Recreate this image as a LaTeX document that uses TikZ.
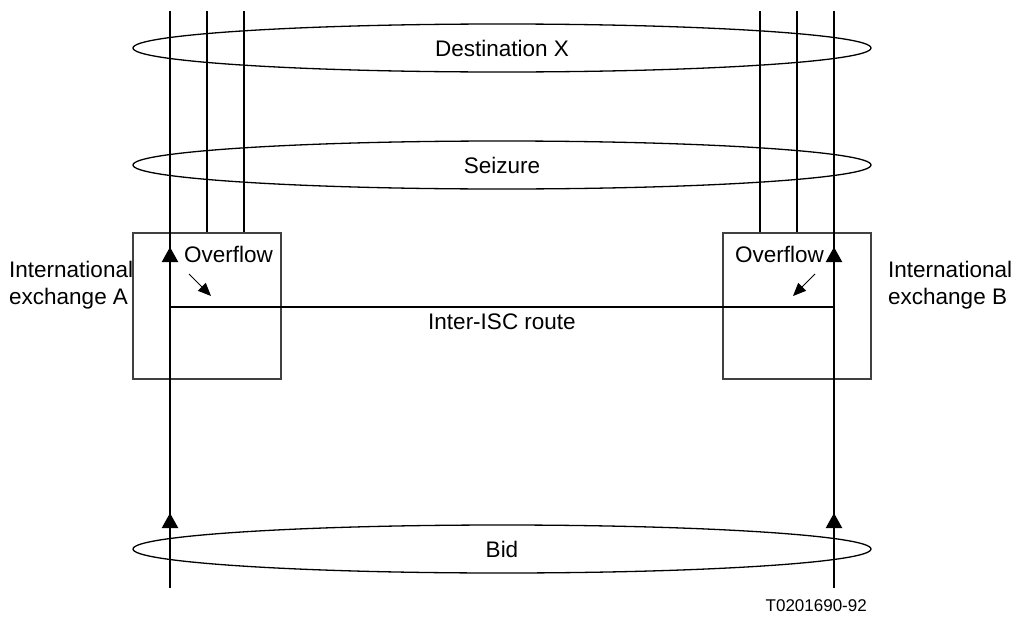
\documentclass[tikz,border=0pt]{standalone}
\usepackage{fontspec}
\setmainfont{Liberation Sans}
\usetikzlibrary{shapes.geometric,arrows.meta}
\begin{document}
\begin{tikzpicture}[x=1pt,y=-1pt,
  txt/.style={font=\fontsize{22.5}{26.5}\selectfont, inner sep=0pt},
  oval/.style={draw, line width=1.3pt, ellipse, minimum width=738pt, minimum height=48pt, inner sep=0pt},
  exch/.style={draw=black!75, line width=1.3pt, rectangle, minimum width=148pt, minimum height=146pt, inner sep=0pt},
  trunk/.style={line width=2.2pt},
  uparrow/.style={line width=2.2pt, -{Triangle[width=16pt,length=15pt]}},
  ovarrow/.style={line width=1pt, -{Triangle[width=11pt,length=13pt]}}]
\useasboundingbox (0,0) rectangle (1015,616);
% boxes
\node[exch] (boxA) at (207,306) {};
\node[exch] (boxB) at (797,306) {};
% ellipses
\node[oval] (dest) at (502,48) {};
\node[oval] (seiz) at (502,165) {};
\node[oval] (bid) at (502,549) {};
\node[txt] (destL) at (502,48) {Destination X};
\node[txt] (seizL) at (502,165) {Seizure};
\node[txt] (bidL) at (502,549) {Bid};
% coordinates
\coordinate (aTop) at (170,11);
\coordinate (aBot) at (170,588);
\coordinate (bTop) at (834,11);
\coordinate (bBot) at (834,588);
\coordinate (a2Top) at (207,11);
\coordinate (a3Top) at (244,11);
\coordinate (b1Top) at (760,11);
\coordinate (b2Top) at (797,11);
\coordinate (routeA) at (170,307);
\coordinate (routeB) at (834,307);
% trunks
\draw[trunk] (aTop) -- (aBot);
\draw[trunk] (bTop) -- (bBot);
\draw[trunk] (a2Top) -- (a2Top |- boxA.north);
\draw[trunk] (a3Top) -- (a3Top |- boxA.north);
\draw[trunk] (b1Top) -- (b1Top |- boxB.north);
\draw[trunk] (b2Top) -- (b2Top |- boxB.north);
\draw[trunk] (routeA) -- (routeB);
% up arrowheads
\coordinate (aUp1s) at (170,266); \coordinate (aUp1e) at (170,247);
\coordinate (bUp1s) at (834,266); \coordinate (bUp1e) at (834,247);
\coordinate (aUp2s) at (170,532); \coordinate (aUp2e) at (170,513);
\coordinate (bUp2s) at (834,532); \coordinate (bUp2e) at (834,513);
\draw[uparrow] (aUp1s) -- (aUp1e);
\draw[uparrow] (bUp1s) -- (bUp1e);
\draw[uparrow] (aUp2s) -- (aUp2e);
\draw[uparrow] (bUp2s) -- (bUp2e);
% overflow labels and arrows
\node[txt, anchor=west] (ovA) at (184,254) {Overflow};
\node[txt, anchor=east] (ovB) at (824,254) {Overflow};
\coordinate (oaS) at (189,274); \coordinate (oaE) at (211,296);
\coordinate (obS) at (815,274); \coordinate (obE) at (793,296);
\draw[ovarrow] (oaS) -- (oaE);
\draw[ovarrow] (obS) -- (obE);
% labels
\node[txt] (route) at (502,322) {Inter-ISC route};
\node[txt, anchor=west, align=left] (exA) at (9,285) {International\\exchange A};
\node[txt, anchor=west, align=left] (exB) at (888,285) {International\\exchange B};
\node[font=\fontsize{17}{20}\selectfont, inner sep=0pt, anchor=east] (code) at (867,606) {T0201690-92};
\end{tikzpicture}
\end{document}
